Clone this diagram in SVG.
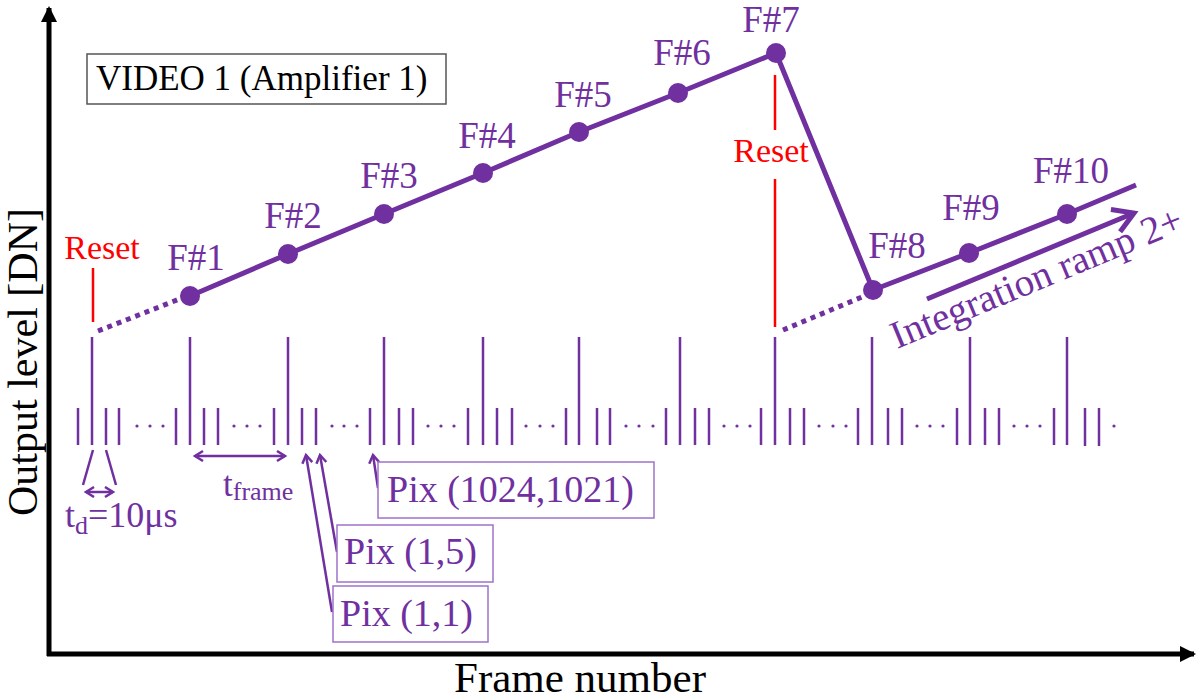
<svg xmlns="http://www.w3.org/2000/svg" width="1200" height="699" viewBox="0 0 1200 699">
<defs>
<style>
.t{font-family:"Liberation Serif","Times New Roman",serif;}
.p{fill:#7030A0;}
.r{fill:#FF0000;}
.k{fill:#000;}
.tk{stroke:#7030A0;stroke-width:2.5;fill:none;}
.rl{stroke:#FF0000;stroke-width:2.5;fill:none;}
.ax{stroke:#000;stroke-width:5;fill:none;}
.pb{fill:#fff;stroke:#9E72CC;stroke-width:1.5;}
.fl{font-size:37px;text-anchor:middle;}
</style>
<marker id="axh" markerUnits="userSpaceOnUse" markerWidth="20" markerHeight="20" refX="14" refY="8" orient="auto">
<path d="M0,0 L16,8 L0,16 Z" fill="#000"/>
</marker>
<marker id="ch" markerUnits="userSpaceOnUse" markerWidth="14" markerHeight="14" refX="9" refY="6" orient="auto-start-reverse">
<path d="M1,1 L9,6 L1,11" fill="none" stroke="#7030A0" stroke-width="2.5"/>
</marker>
<marker id="big" markerUnits="userSpaceOnUse" markerWidth="32" markerHeight="32" refX="24" refY="16" orient="auto">
<path d="M4,4 L24,16 L4,28" fill="none" stroke="#7030A0" stroke-width="5"/>
</marker>
</defs>
<rect width="1200" height="699" fill="#fff"/>

<g id="axes">
<line class="ax" x1="49" y1="656" x2="49" y2="8" marker-end="url(#axh)"/>
<line class="ax" x1="47" y1="654" x2="1194" y2="654" marker-end="url(#axh)"/>
<text class="t k" x="580" y="692" font-size="43" text-anchor="middle">Frame number</text>
<text class="t k" transform="translate(37,362) rotate(-90)" font-size="42" text-anchor="middle">Output level [DN]</text>
</g>

<g id="video-label">
<rect x="87" y="54" width="359" height="50" fill="#fff" stroke="#555" stroke-width="1.5"/>
<text class="t k" x="96" y="90" font-size="35">VIDEO 1 (Amplifier 1)</text>
</g>

<g id="ticks" class="tk">
<path d="M92,337V445 M190,337V445 M288,337V445 M384,337V445 M483,337V445 M579,337V445 M680,337V445 M775,337V445 M872,337V445 M970,337V445 M1067,337V445"/>
<path d="M78,408V445 M106,408V445 M119,408V445 M176,408V445
M204,408V445 M218,408V445 M274,408V445
M302,408V445 M316,408V445 M370,408V445
M399,408V445 M413,408V445 M468,408V445
M497,408V445 M512,408V445 M566,408V445
M597,408V445 M610,408V445 M666,408V445
M695,408V445 M709,408V445 M761,408V445
M790,408V445 M804,408V445 M858,408V445
M888,408V445 M902,408V445 M957,408V445
M985,408V445 M999,408V445 M1054,408V445
M1085,408V446 M1099,408V446"/>
</g>
<g id="dots" class="p">
<circle cx="137" cy="426" r="1.6"/><circle cx="150" cy="426" r="1.6"/><circle cx="163" cy="426" r="1.6"/>
<circle cx="234" cy="426" r="1.6"/><circle cx="247" cy="426" r="1.6"/><circle cx="260" cy="426" r="1.6"/>
<circle cx="332" cy="426" r="1.6"/><circle cx="344" cy="426" r="1.6"/><circle cx="357" cy="426" r="1.6"/>
<circle cx="428" cy="426" r="1.6"/><circle cx="441" cy="426" r="1.6"/><circle cx="454" cy="426" r="1.6"/>
<circle cx="526" cy="426" r="1.6"/><circle cx="540" cy="426" r="1.6"/><circle cx="553" cy="426" r="1.6"/>
<circle cx="626" cy="426" r="1.6"/><circle cx="639" cy="426" r="1.6"/><circle cx="653" cy="426" r="1.6"/>
<circle cx="724" cy="426" r="1.6"/><circle cx="737" cy="426" r="1.6"/><circle cx="750" cy="426" r="1.6"/>
<circle cx="819" cy="426" r="1.6"/><circle cx="833" cy="426" r="1.6"/><circle cx="846" cy="426" r="1.6"/>
<circle cx="917" cy="426" r="1.6"/><circle cx="930" cy="426" r="1.6"/><circle cx="943" cy="426" r="1.6"/>
<circle cx="1014" cy="426" r="1.6"/><circle cx="1027" cy="426" r="1.6"/><circle cx="1040" cy="426" r="1.6"/>
<circle cx="1114" cy="426" r="1.6"/>
</g>

<g id="resets">
<line class="rl" x1="93" y1="268" x2="93" y2="322"/>
<text class="t r" x="102" y="259" font-size="34" text-anchor="middle">Reset</text>
<line class="rl" x1="775" y1="75" x2="775" y2="130"/>
<line class="rl" x1="775" y1="179" x2="775" y2="327"/>
<text class="t r" x="771" y="162" font-size="34" text-anchor="middle">Reset</text>
</g>

<g id="connectors">
<line x1="98" y1="331" x2="182" y2="298" stroke="#7030A0" stroke-width="5" stroke-dasharray="5 5"/>
<line x1="783" y1="330" x2="862" y2="297" stroke="#7030A0" stroke-width="5" stroke-dasharray="5 5"/>
<polyline points="190,296 288,254 384,214 483,173 579,132 678,93 776,53 873,290 969,253 1067,214 1136,185" fill="none" stroke="#7030A0" stroke-width="5" stroke-linejoin="round"/>
<line x1="927" y1="299" x2="1134" y2="213" stroke="#7030A0" stroke-width="5" marker-end="url(#big)"/>
<line class="tk" x1="93" y1="450" x2="83" y2="485"/>
<line class="tk" x1="106" y1="450" x2="116" y2="485"/>
<line class="tk" x1="86" y1="492" x2="113" y2="492" marker-start="url(#ch)" marker-end="url(#ch)"/>
<line class="tk" x1="195" y1="456" x2="285" y2="456" marker-start="url(#ch)" marker-end="url(#ch)"/>
<line class="tk" x1="332" y1="612" x2="306" y2="455" marker-end="url(#ch)"/>
<line class="tk" x1="337" y1="552" x2="320" y2="455" marker-end="url(#ch)"/>
<line class="tk" x1="378" y1="488" x2="373" y2="455" marker-end="url(#ch)"/>
</g>

<g id="frames" class="t p fl">
<g id="f1"><circle cx="190" cy="296" r="10"/><text x="196" y="270">F#1</text></g>
<g id="f2"><circle cx="288" cy="254" r="10"/><text x="293" y="228">F#2</text></g>
<g id="f3"><circle cx="384" cy="214" r="10"/><text x="389" y="188">F#3</text></g>
<g id="f4"><circle cx="483" cy="173" r="10"/><text x="487" y="148">F#4</text></g>
<g id="f5"><circle cx="579" cy="132" r="10"/><text x="583" y="107">F#5</text></g>
<g id="f6"><circle cx="678" cy="93" r="10"/><text x="682" y="65">F#6</text></g>
<g id="f7"><circle cx="776" cy="53" r="10"/><text x="771" y="32">F#7</text></g>
<g id="f8"><circle cx="873" cy="290" r="10"/><text x="897" y="258">F#8</text></g>
<g id="f9"><circle cx="969" cy="253" r="10"/><text x="971" y="220">F#9</text></g>
<g id="f10"><circle cx="1067" cy="214" r="10"/><text x="1071" y="183">F#10</text></g>
</g>

<g id="integration-label">
<text class="t p" transform="translate(897,349) rotate(-22.5)" font-size="39">Integration ramp 2+</text>
</g>

<g id="td-label">
<text class="t p" x="65" y="527" font-size="36">t<tspan font-size="26" dy="7">d</tspan><tspan dy="-7">=10μs</tspan></text>
</g>
<g id="tframe-label">
<text class="t p" x="223" y="496" font-size="35">t<tspan font-size="26" dy="4">frame</tspan></text>
</g>

<g id="pix-1024">
<rect class="pb" x="378" y="462" width="276" height="56"/>
<text class="t p" x="387" y="502" font-size="38">Pix (1024,1021)</text>
</g>
<g id="pix-1-5">
<rect class="pb" x="337" y="525" width="156" height="57"/>
<text class="t p" x="344" y="564" font-size="38">Pix (1,5)</text>
</g>
<g id="pix-1-1">
<rect class="pb" x="333" y="586" width="155" height="56"/>
<text class="t p" x="340" y="626" font-size="38">Pix (1,1)</text>
</g>
</svg>
